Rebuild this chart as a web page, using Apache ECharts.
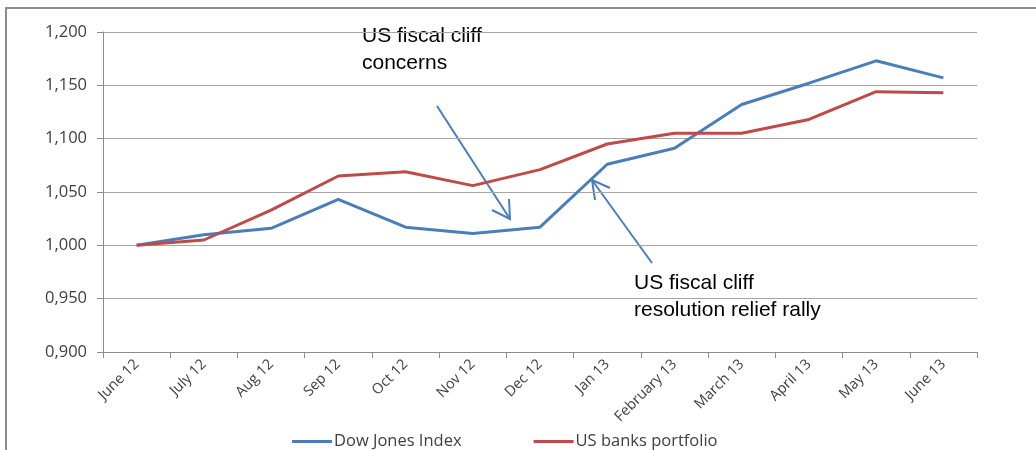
<!DOCTYPE html>
<html>
<head>
<meta charset="utf-8">
<script src="https://cdn.jsdelivr.net/npm/echarts@6/dist/echarts.min.js"></script>
<style>
  html, body { margin: 0; padding: 0; background: #fff; }
  #chart { width: 1036px; height: 450px; }
</style>
</head>
<body>
<div id="chart"></div>
<script>
  const months = ['June 12', 'July 12', 'Aug 12', 'Sep 12', 'Oct 12', 'Nov 12', 'Dec 12',
    'Jan 13', 'February 13', 'March 13', 'April 13', 'May 13', 'June 13']
  const dowJones = [1000, 1010, 1016, 1043, 1017, 1011, 1017, 1076, 1091, 1132, 1152, 1173, 1157]
  const usBanks = [1000, 1005, 1033, 1065, 1069, 1056, 1071, 1095, 1105, 1105, 1118, 1144, 1143]
  const yTicks = [900, 950, 1000, 1050, 1100, 1150, 1200]

  const BLUE = '#4A7EBB'
  const RED = '#BE4B48'
  const TXT = '#404040'
  const LABEL_FONT = '"Open Sans", sans-serif'

  const chart = echarts.init(document.getElementById('chart'))
  chart.setOption({
    animation: false,
    grid: { left: 103, right: 59, top: 32, bottom: 98 },
    legend: {
      top: 428,
      left: 287,
      itemGap: 72,
      itemWidth: 40,
      itemHeight: 3,
      icon: 'rect',
      textStyle: { color: TXT, fontSize: 16.5, fontFamily: LABEL_FONT, padding: [0, 0, 0, -3] },
      data: ['Dow Jones Index', 'US banks portfolio']
    },
    xAxis: {
      type: 'category',
      data: months,
      boundaryGap: true,
      axisLine: { lineStyle: { color: '#8c8c8c', width: 1 } },
      axisTick: { show: true, interval: 0, length: 6, lineStyle: { color: '#8c8c8c' } },
      axisLabel: { interval: 0, rotate: 45, margin: 10, color: TXT, fontSize: 14.5, fontFamily: LABEL_FONT }
    },
    yAxis: {
      type: 'value',
      min: yTicks[0],
      max: yTicks[yTicks.length - 1],
      interval: 50,
      axisLine: { show: true, lineStyle: { color: '#8c8c8c' } },
      axisTick: { show: true, length: 6, inside: false, lineStyle: { color: '#8c8c8c' } },
      splitLine: { lineStyle: { color: '#a6a6a6', width: 1 } },
      axisLabel: {
        color: TXT, fontSize: 16.5, fontFamily: LABEL_FONT, margin: 16,
        formatter: v => (v / 1000).toFixed(3).replace('.', ',')
      }
    },
    series: [
      { name: 'Dow Jones Index', type: 'line', data: dowJones, showSymbol: false,
        itemStyle: { color: BLUE }, lineStyle: { color: BLUE, width: 3 } },
      { name: 'US banks portfolio', type: 'line', data: usBanks, showSymbol: false,
        itemStyle: { color: RED }, lineStyle: { color: RED, width: 3 } }
    ],
    graphic: [
      // outer frame
      { type: 'polyline', shape: { points: [[6, 450], [6, 8], [1036, 8]] },
        style: { stroke: '#8c8c8c', lineWidth: 2, fill: null } },
      // annotations
      { type: 'text', left: 362, top: 23,
        style: { text: 'US fiscal cliff\nconcerns', font: '21px "Liberation Sans", Arial', fill: '#000', lineHeight: 27 } },
      { type: 'text', left: 634, top: 270,
        style: { text: 'US fiscal cliff\nresolution relief rally', font: '21px "Liberation Sans", Arial', fill: '#000', lineHeight: 27 } },
      // arrows
      { type: 'polyline', shape: { points: [[437, 106], [510, 219]] },
        style: { stroke: BLUE, lineWidth: 2, fill: null } },
      { type: 'polyline', shape: { points: [[509, 199], [510, 219], [492, 210]] },
        style: { stroke: BLUE, lineWidth: 2, fill: null } },
      { type: 'polyline', shape: { points: [[652, 263], [592, 180]] },
        style: { stroke: BLUE, lineWidth: 2, fill: null } },
      { type: 'polyline', shape: { points: [[595, 200], [592, 180], [610, 188]] },
        style: { stroke: BLUE, lineWidth: 2, fill: null } }
    ]
  })
</script>
</body>
</html>
